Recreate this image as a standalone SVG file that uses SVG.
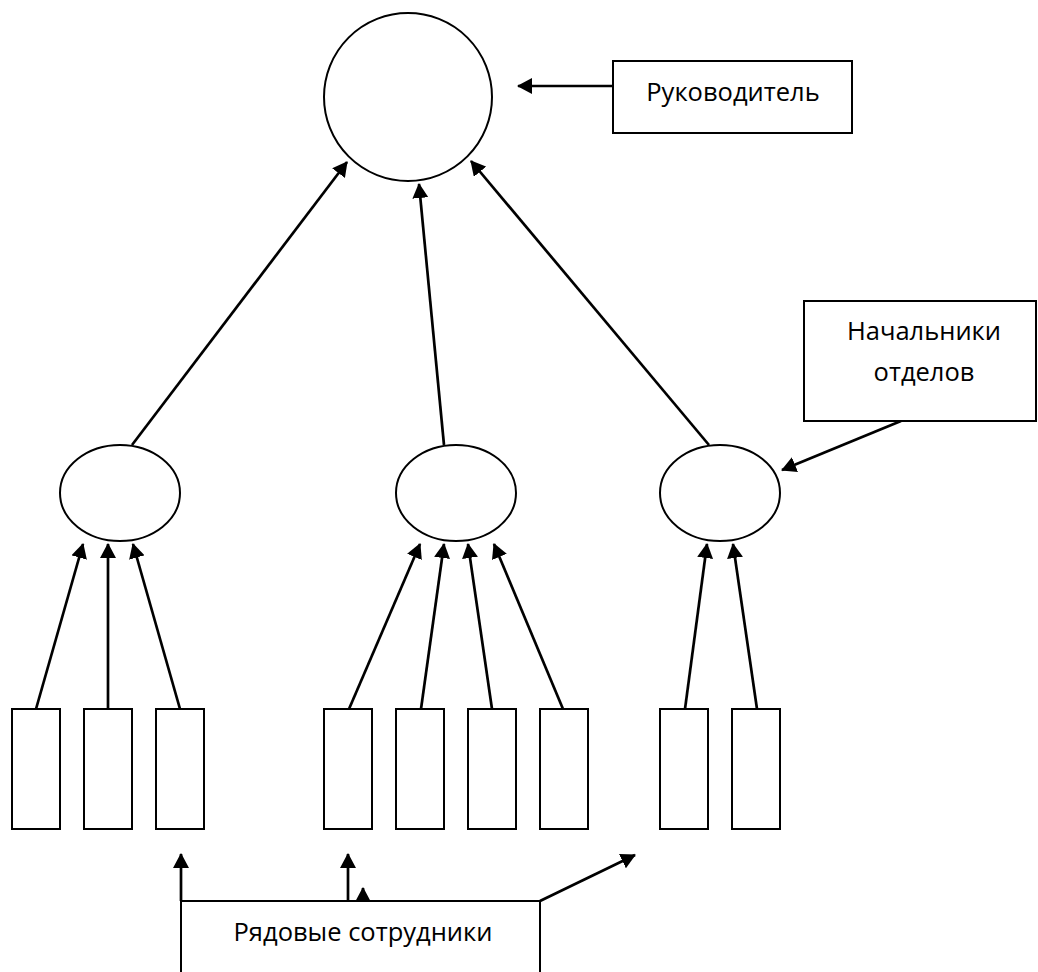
<svg xmlns="http://www.w3.org/2000/svg" width="1038" height="972" viewBox="0 0 1038 972">
<style>
.shape{fill:#fff;stroke:#000;stroke-width:2}
.conn{fill:none;stroke:#000;stroke-width:2.7;marker-end:url(#ah)}
.lbl{font-family:"Open Sans","Noto Sans","DejaVu Sans",sans-serif;font-size:25.5px;fill:#000;text-anchor:middle}
</style>
<defs>
<marker id="ah" viewBox="0 0 15 16" refX="14" refY="8" markerWidth="15" markerHeight="16" markerUnits="userSpaceOnUse" orient="auto">
<path d="M0,0 L15,8 L0,16 Z" fill="#000"/>
</marker>
</defs>
<rect width="1038" height="972" fill="#fff"/>
<g id="connectors">
<line class="conn" x1="613" y1="86" x2="518" y2="86"/>
<line class="conn" x1="901" y1="421" x2="782" y2="470"/>
<line class="conn" x1="132" y1="445" x2="347" y2="162"/>
<line class="conn" x1="444" y1="445" x2="419" y2="184"/>
<line class="conn" x1="709" y1="445" x2="471" y2="161"/>
<line class="conn" x1="36" y1="709" x2="83" y2="544"/>
<line class="conn" x1="108" y1="709" x2="108" y2="544"/>
<line class="conn" x1="180" y1="709" x2="133" y2="544"/>
<line class="conn" x1="349" y1="709" x2="420" y2="544"/>
<line class="conn" x1="421" y1="709" x2="444" y2="544"/>
<line class="conn" x1="492" y1="709" x2="468" y2="544"/>
<line class="conn" x1="563" y1="709" x2="494" y2="544"/>
<line class="conn" x1="685" y1="709" x2="707" y2="544"/>
<line class="conn" x1="757" y1="709" x2="733" y2="544"/>
<line class="conn" x1="181" y1="901" x2="181" y2="854"/>
<line class="conn" x1="348" y1="901" x2="348" y2="854"/>
<line class="conn" x1="363" y1="901" x2="363" y2="888"/>
<line class="conn" x1="540" y1="901" x2="635" y2="855"/>
</g>
<g id="head">
<circle class="shape" cx="408" cy="97" r="84"/>
</g>
<g id="head-label">
<rect class="shape" x="613" y="61" width="239" height="72"/>
<text class="lbl" x="733" y="101">Руководитель</text>
</g>
<g id="dept-label">
<rect class="shape" x="804" y="301" width="232" height="120"/>
<text class="lbl" x="924" y="340">Начальники</text>
<text class="lbl" x="924" y="381">отделов</text>
</g>
<g id="dept1"><ellipse class="shape" cx="120" cy="493" rx="60" ry="48"/></g>
<g id="dept2"><ellipse class="shape" cx="456" cy="493" rx="60" ry="48"/></g>
<g id="dept3"><ellipse class="shape" cx="720" cy="493" rx="60" ry="48"/></g>
<g id="emp1"><rect class="shape" x="12" y="709" width="48" height="120"/></g>
<g id="emp2"><rect class="shape" x="84" y="709" width="48" height="120"/></g>
<g id="emp3"><rect class="shape" x="156" y="709" width="48" height="120"/></g>
<g id="emp4"><rect class="shape" x="324" y="709" width="48" height="120"/></g>
<g id="emp5"><rect class="shape" x="396" y="709" width="48" height="120"/></g>
<g id="emp6"><rect class="shape" x="468" y="709" width="48" height="120"/></g>
<g id="emp7"><rect class="shape" x="540" y="709" width="48" height="120"/></g>
<g id="emp8"><rect class="shape" x="660" y="709" width="48" height="120"/></g>
<g id="emp9"><rect class="shape" x="732" y="709" width="48" height="120"/></g>
<g id="staff-label">
<rect class="shape" x="181" y="901" width="359" height="90"/>
<text class="lbl" x="363" y="941">Рядовые сотрудники</text>
</g>
</svg>
